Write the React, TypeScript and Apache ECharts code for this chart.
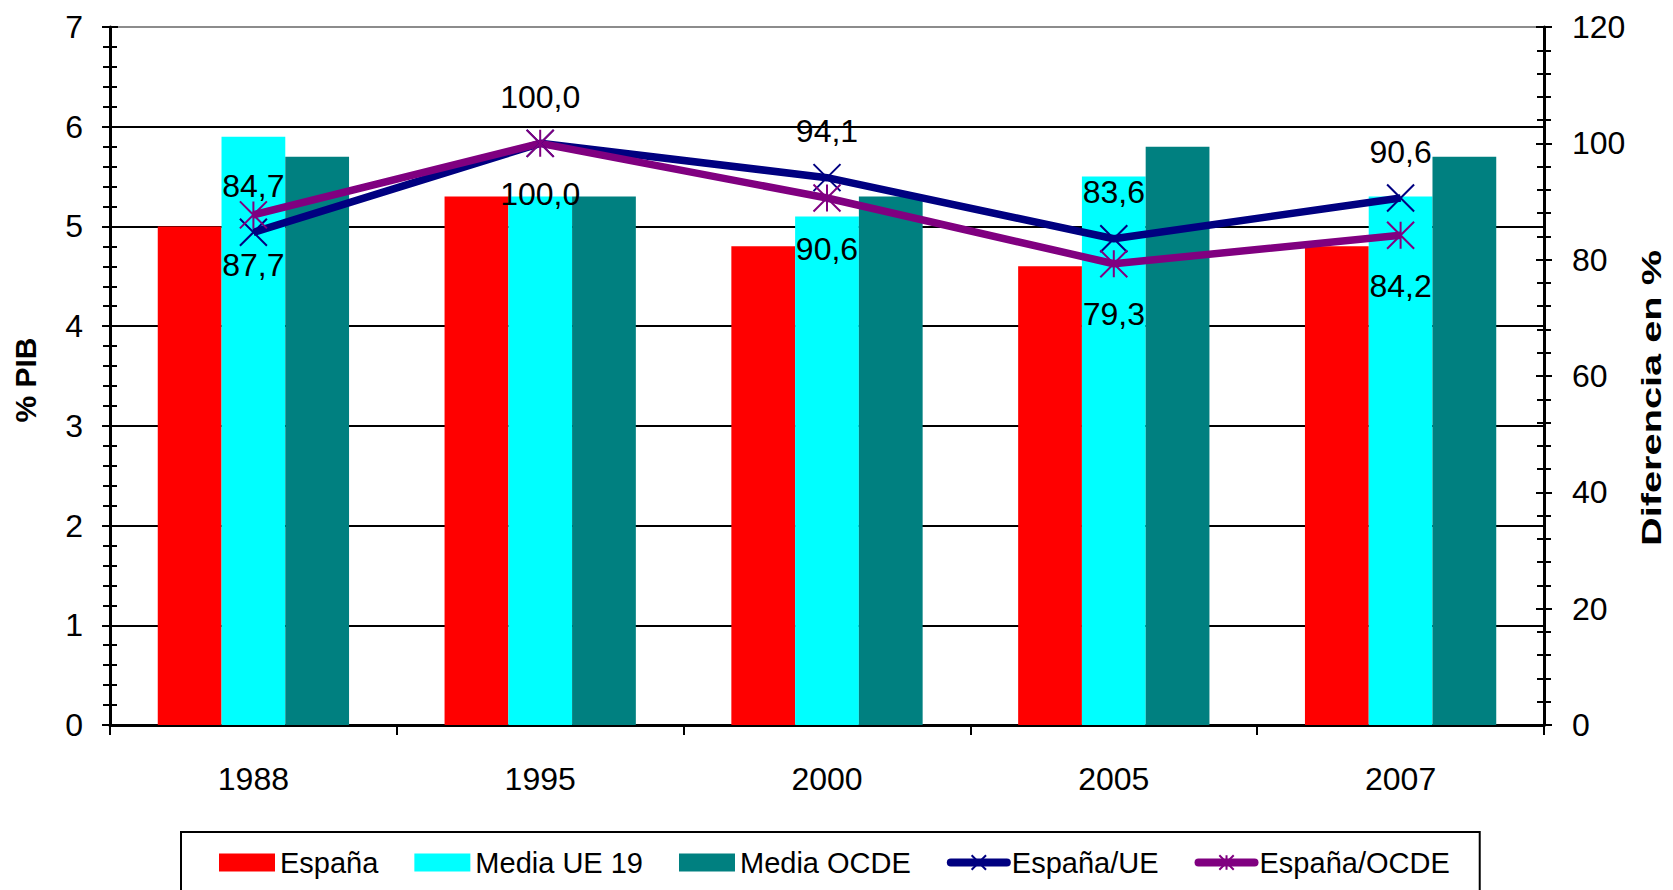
import React, { useEffect, useRef } from "react";
import * as echarts from "echarts";

const categories = ["1988", "1995", "2000", "2005", "2007"];
const espana = [5.0, 5.3, 4.8, 4.6, 4.8];
const mediaUE19 = [5.9, 5.3, 5.1, 5.5, 5.3];
const mediaOCDE = [5.7, 5.3, 5.3, 5.8, 5.7];
const espanaUE = [84.7, 100.0, 94.1, 83.6, 90.6];
const espanaOCDE = [87.7, 100.0, 90.6, 79.3, 84.2];
const leftAxis = { min: 0, max: 7, interval: 1 };
const rightAxis = { min: 0, max: 120, interval: 20 };

const FONT = "'Liberation Sans', Arial, sans-serif";
const fmt = (v: number) => v.toFixed(1).replace(".", ",");

const X_PATH = "path://M0 0L10 10M10 0L0 10";
const STAR_PATH = "path://M0 0L10 10M10 0L0 10M5 0L5 10";

export default function App() {
  const ref = useRef<HTMLDivElement>(null);
  useEffect(() => {
    if (!ref.current) return;
    const chart = echarts.init(ref.current, undefined, { renderer: "svg" });
    const tickStyle = { color: "#000", width: 2 };
    const option: any = {
      animation: false,
      textStyle: { fontFamily: FONT },
      grid: { left: 110, right: 129, top: 27, bottom: 165, containLabel: false },
      legend: {
        left: 181,
        top: 832,
        orient: "horizontal",
        borderColor: "#000",
        borderWidth: 2,
        padding: [16, 30, 16, 38],
        itemWidth: 56,
        itemHeight: 18,
        itemGap: 36,
        textStyle: { fontSize: 29, color: "#000", fontFamily: FONT },
        data: [
          { name: "España", icon: "rect" },
          { name: "Media UE 19", icon: "rect" },
          { name: "Media OCDE", icon: "rect" },
          { name: "España/UE", lineStyle: { width: 8, cap: "round" } },
          { name: "España/OCDE", lineStyle: { width: 8, cap: "round" } },
        ],
      },
      xAxis: {
        type: "category",
        data: categories,
        boundaryGap: true,
        axisLine: { lineStyle: { color: "#000", width: 3 } },
        axisTick: { show: true, length: 10, lineStyle: tickStyle },
        axisLabel: { fontSize: 32, color: "#000", margin: 38, fontFamily: FONT },
        splitLine: { show: false },
      },
      yAxis: [
        {
          type: "value",
          position: "left",
          min: leftAxis.min,
          max: leftAxis.max,
          interval: leftAxis.interval,
          axisLine: { show: true, lineStyle: { color: "#000", width: 3 } },
          axisTick: { show: true, length: 8, lineStyle: tickStyle },
          minorTick: { show: true, splitNumber: 5, length: 7, lineStyle: tickStyle },
          axisLabel: { fontSize: 32, color: "#000", margin: 27, fontFamily: FONT },
          splitLine: {
            show: true,
            lineStyle: {
              color: ["#000", "#000", "#000", "#000", "#000", "#000", "#000", "#8c8c8c"],
              width: 2,
            },
          },
        },
        {
          type: "value",
          position: "right",
          min: rightAxis.min,
          max: rightAxis.max,
          interval: rightAxis.interval,
          axisLine: { show: true, lineStyle: { color: "#000", width: 3 } },
          axisTick: { show: true, length: 8, lineStyle: tickStyle },
          minorTick: { show: true, splitNumber: 5, length: 7, lineStyle: tickStyle },
          axisLabel: { fontSize: 32, color: "#000", margin: 28, fontFamily: FONT },
          splitLine: { show: false },
        },
        {
          type: "value",
          position: "left",
          min: leftAxis.min,
          max: leftAxis.max,
          interval: leftAxis.interval,
          axisLine: { show: false },
          axisTick: { show: true, inside: true, length: 8, lineStyle: tickStyle },
          minorTick: { show: true, splitNumber: 5, length: 7, lineStyle: tickStyle },
          axisLabel: { show: false },
          splitLine: { show: false },
        },
        {
          type: "value",
          position: "right",
          min: rightAxis.min,
          max: rightAxis.max,
          interval: rightAxis.interval,
          axisLine: { show: false },
          axisTick: { show: true, inside: true, length: 8, lineStyle: tickStyle },
          minorTick: { show: true, splitNumber: 5, length: 7, lineStyle: tickStyle },
          axisLabel: { show: false },
          splitLine: { show: false },
        },
      ],
      graphic: [
        {
          type: "text",
          x: 25,
          y: 380,
          rotation: Math.PI / 2,
          style: {
            text: "% PIB",
            fontSize: 30,
            fontWeight: "bold",
            fontFamily: FONT,
            fill: "#000",
            align: "center",
            verticalAlign: "middle",
          },
        },
        {
          type: "text",
          x: 1651,
          y: 398,
          rotation: Math.PI / 2,
          scaleX: 1.42,
          style: {
            text: "Diferencia en %",
            fontSize: 28,
            fontWeight: "bold",
            fontFamily: FONT,
            fill: "#000",
            align: "center",
            verticalAlign: "middle",
          },
        },
      ],
      series: [
        {
          name: "España",
          type: "bar",
          data: espana,
          yAxisIndex: 0,
          barGap: "0%",
          barCategoryGap: "33.3%",
          itemStyle: { color: "#FF0000" },
        },
        {
          name: "Media UE 19",
          type: "bar",
          data: mediaUE19,
          yAxisIndex: 0,
          barGap: "0%",
          barCategoryGap: "33.3%",
          itemStyle: { color: "#00FFFF" },
        },
        {
          name: "Media OCDE",
          type: "bar",
          data: mediaOCDE,
          yAxisIndex: 0,
          barGap: "0%",
          barCategoryGap: "33.3%",
          itemStyle: { color: "#008080" },
        },
        {
          name: "España/UE",
          type: "line",
          data: espanaUE,
          yAxisIndex: 1,
          symbol: X_PATH,
          symbolSize: 27,
          lineStyle: { color: "#000080", width: 7.5 },
          itemStyle: { color: "#000080", borderColor: "#000080", borderWidth: 2 },
          label: {
            show: true,
            position: "top",
            distance: 16,
            fontSize: 32,
            color: "#000",
            fontFamily: FONT,
            formatter: (p: any) => fmt(p.value),
          },
        },
        {
          name: "España/OCDE",
          type: "line",
          data: espanaOCDE,
          yAxisIndex: 1,
          symbol: STAR_PATH,
          symbolSize: 27,
          lineStyle: { color: "#800080", width: 7.5 },
          itemStyle: { color: "#800080", borderColor: "#800080", borderWidth: 2 },
          label: {
            show: true,
            position: "bottom",
            distance: 20,
            fontSize: 32,
            color: "#000",
            fontFamily: FONT,
            formatter: (p: any) => fmt(p.value),
          },
        },
      ],
    };
    chart.setOption(option);
    return () => chart.dispose();
  }, []);
  return (
    <div
      ref={ref}
      style={{ position: "fixed", left: 0, top: 0, width: 1673, height: 890, background: "#fff" }}
    />
  );
}
